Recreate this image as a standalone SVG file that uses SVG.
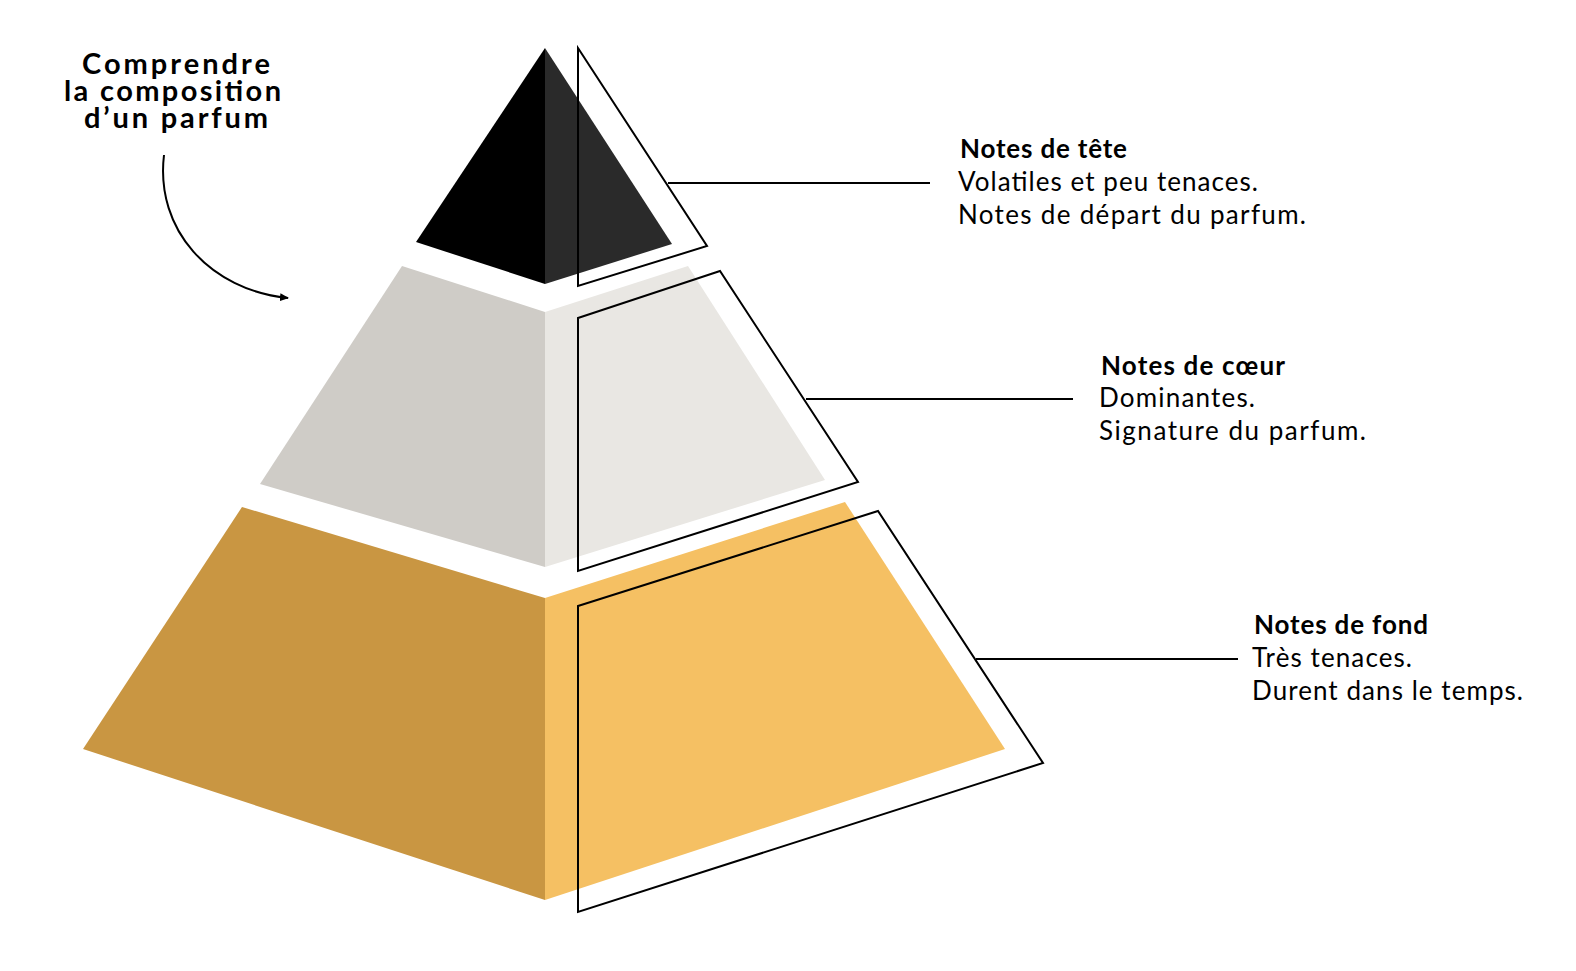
<svg xmlns="http://www.w3.org/2000/svg" width="1576" height="971" viewBox="0 0 1576 971">
<style>
text{font-family:Lato,"Liberation Sans",sans-serif;fill:#000}
.h{font-weight:bold;font-size:26px}
.t{font-size:26px}
.o{fill:none;stroke:#000;stroke-width:2}
.l{stroke:#000;stroke-width:2}
.ti{font-size:29px;font-weight:bold}
</style>
<defs><marker id="a" markerWidth="10" markerHeight="10" refX="8" refY="5" orient="auto" markerUnits="userSpaceOnUse"><path d="M0,1 L9,5 L0,9 Z" fill="#000"/></marker></defs>
<rect width="1576" height="971" fill="#fff"/>
<g id="base">
<polygon points="242,507 545,598 545,900 83,749" fill="#c99642"/>
<polygon points="545,598 845,502 1005,749 545,900" fill="#f5c063"/>
</g>
<g id="middle">
<polygon points="402,266 545,312 545,567 260,484" fill="#cfccc7"/>
<polygon points="545,312 688,266 825,480 545,567" fill="#e9e7e3"/>
</g>
<g id="top">
<polygon points="545,48 416,242 545,284" fill="#000"/>
<polygon points="545,48 672,244 545,284" fill="#2a2a2a"/>
</g>
<g id="connectors">
<polygon class="o" points="578,48 707,246 578,286"/>
<polygon class="o" points="578,318 720,271 858,482 578,571"/>
<polygon class="o" points="578,606 878,511 1043,763 578,912"/>
<line class="l" x1="668" y1="183" x2="930" y2="183"/>
<line class="l" x1="806" y1="399" x2="1073" y2="399"/>
<line class="l" x1="976" y1="659" x2="1238" y2="659"/>
<path d="M164,155 C155,230 210,290 288,298" fill="none" stroke="#000" stroke-width="2" marker-end="url(#a)"/>
</g>
<g id="title">
<text class="ti" x="82" y="74" textLength="188" lengthAdjust="spacing">Comprendre</text>
<text class="ti" x="64" y="101" textLength="217" lengthAdjust="spacing">la composition</text>
<text class="ti" x="84" y="128" textLength="184" lengthAdjust="spacing">d’un parfum</text>
</g>
<g id="label-tete">
<text class="h" x="960" y="158" textLength="167" lengthAdjust="spacing">Notes de tête</text>
<text class="t" x="958" y="191" textLength="300" lengthAdjust="spacing">Volatiles et peu tenaces.</text>
<text class="t" x="958" y="224" textLength="348" lengthAdjust="spacing">Notes de départ du parfum.</text>
</g>
<g id="label-coeur">
<text class="h" x="1101" y="375" textLength="184" lengthAdjust="spacing">Notes de cœur</text>
<text class="t" x="1099" y="407" textLength="156" lengthAdjust="spacing">Dominantes.</text>
<text class="t" x="1099" y="440" textLength="267" lengthAdjust="spacing">Signature du parfum.</text>
</g>
<g id="label-fond">
<text class="h" x="1254" y="634" textLength="174" lengthAdjust="spacing">Notes de fond</text>
<text class="t" x="1252" y="667" textLength="160" lengthAdjust="spacing">Très tenaces.</text>
<text class="t" x="1252" y="700" textLength="271" lengthAdjust="spacing">Durent dans le temps.</text>
</g>
</svg>
